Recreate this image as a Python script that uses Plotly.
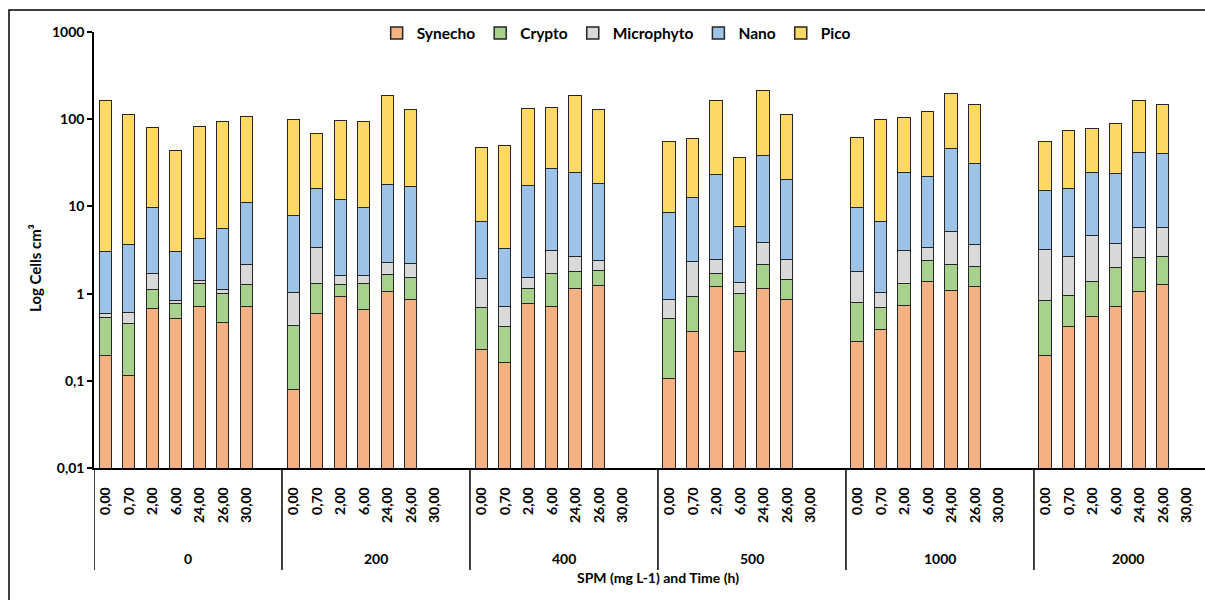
import plotly.graph_objects as go

# ---------------- data ----------------
spm_groups = ["0", "200", "400", "500", "1000", "2000"]
times = ["0,00", "0,70", "2,00", "6,00", "24,00", "26,00", "30,00"]

synecho = [0.19, 0.114, 0.66, 0.51, 0.70, 0.46, 0.70,
           0.078, 0.59, 0.91, 0.65, 1.04, 0.84, None,
           0.225, 0.161, 0.77, 0.71, 1.13, 1.21, None,
           0.104, 0.36, 1.18, 0.214, 1.13, 0.85, None,
           0.28, 0.385, 0.73, 1.35, 1.06, 1.18, None,
           0.19, 0.41, 0.535, 0.70, 1.03, 1.25, None]
crypto = [0.33, 0.34, 0.43, 0.25, 0.59, 0.52, 0.55,
          0.344, 0.69, 0.34, 0.64, 0.61, 0.66, None,
          0.45, 0.256, 0.36, 0.95, 0.64, 0.61, None,
          0.403, 0.55, 0.48, 0.77, 0.98, 0.60, None,
          0.51, 0.29, 0.57, 1.0, 1.05, 0.85, None,
          0.63, 0.53, 0.82, 1.28, 1.55, 1.40, None]
microphyto = [0.06, 0.14, 0.57, 0.06, 0.12, 0.13, 0.87,
              0.585, 2.02, 0.36, 0.29, 0.59, 0.70, None,
              0.79, 0.29, 0.39, 1.40, 0.88, 0.54, None,
              0.33, 1.39, 0.79, 0.33, 1.67, 0.97, None,
              0.99, 0.33, 1.80, 0.95, 2.97, 1.58, None,
              2.34, 1.69, 3.25, 1.69, 3.12, 2.96, None]
nano = [2.43, 3.05, 7.93, 2.18, 2.85, 4.35, 8.8,
        6.75, 12.5, 10.1, 8.08, 15.3, 14.4, None,
        5.1, 2.51, 15.8, 24.0, 21.4, 15.7, None,
        7.5, 10.1, 20.7, 4.5, 33.8, 17.7, None,
        7.8, 5.7, 21.2, 18.4, 40.1, 26.8, None,
        11.9, 13.2, 19.7, 19.6, 35.6, 34.0, None]
pico = [159, 108, 69.7, 39.9, 76.5, 88, 96,
        90, 51.8, 83.6, 83.8, 167, 112, None,
        40.2, 46.5, 114, 106, 160, 109, None,
        46.9, 46.4, 139, 30.4, 171, 91.6, None,
        51.2, 90.4, 78, 98, 149, 115, None,
        40.2, 57.4, 52.3, 64.2, 119, 104.7, None]

series_names = ["Synecho", "Crypto", "Microphyto", "Nano", "Pico"]
series_values = [synecho, crypto, microphyto, nano, pico]
series_colors = ["#F4B183", "#A9D18E", "#D9D9D9", "#9DC3E6", "#FFD966"]

# ---------------- layout helpers ----------------
SLOTS = 8  # 7 time categories + 1 blank slot per SPM group
xpos = [g * SLOTS + t for g in range(len(spm_groups)) for t in range(len(times))]
xlabels = [times[t] for g in range(len(spm_groups)) for t in range(len(times))]

FONT = "Lato"

fig = go.Figure()
for name, vals, col in zip(series_names, series_values, series_colors):
    fig.add_trace(go.Bar(
        x=xpos, y=vals, name=name, width=0.53,
        marker=dict(color=col, line=dict(color="#262626", width=1.5)),
    ))

shapes = []
# group separators below the axis
for g in range(len(spm_groups) + 1):
    shapes.append(dict(type="line", xref="x", yref="paper",
                       x0=g * SLOTS - 0.5, x1=g * SLOTS - 0.5, y0=0, y1=-0.234,
                       line=dict(color="black", width=1.5)))
# outer chart border
shapes.append(dict(type="rect", xref="paper", yref="paper",
                   x0=-0.0765, x1=1.2, y0=-0.5, y1=1.0505,
                   line=dict(color="black", width=1.5), fillcolor="rgba(0,0,0,0)"))

annotations = []
for g, lab in enumerate(spm_groups):
    annotations.append(dict(x=g * SLOTS + 3.5, y=-0.207, xref="x", yref="paper",
                            xanchor="center", yanchor="middle",
                            text=lab, showarrow=False,
                            font=dict(family=FONT, size=14, color="black", weight="bold")))
annotations.append(dict(x=23.5, y=-0.252, xref="x", yref="paper",
                        xanchor="center", yanchor="middle",
                        text="SPM (mg L-1) and Time (h)", showarrow=False,
                        font=dict(family=FONT, size=14, color="black", weight="bold")))
annotations.append(dict(x=-0.053, y=0.459, xref="paper", yref="paper",
                        xanchor="center", yanchor="middle",
                        text="Log Cells cm³", textangle=-90, showarrow=False,
                        font=dict(family=FONT, size=15, color="black", weight="bold")))

fig.update_layout(
    width=1205, height=600,
    margin=dict(l=94, r=0, t=32, b=132),
    barmode="stack",
    bargap=0,
    plot_bgcolor="white", paper_bgcolor="white",
    font=dict(family=FONT, size=14, color="black", weight="bold"),
    legend=dict(orientation="h", x=0.47, xanchor="center", y=0.997, yanchor="middle",
                traceorder="normal", font=dict(family=FONT, size=15.5, weight="bold"),
                bgcolor="rgba(0,0,0,0)"),
    shapes=shapes,
    annotations=annotations,
    xaxis=dict(range=[-0.5, 46.78], tickmode="array", tickvals=xpos, ticktext=xlabels,
               tickangle=-90, ticks="outside", ticklen=12, tickcolor="rgba(0,0,0,0)",
               showline=True, linecolor="black", linewidth=1.5, showgrid=False,
               zeroline=False, tickfont=dict(family=FONT, size=14, weight="bold")),
    yaxis=dict(type="log", range=[-2, 3], tickmode="array",
               tickvals=[0.01, 0.1, 1, 10, 100, 1000],
               ticktext=["0,01", "0,1", "1", "10", "100", "1000"],
               ticks="outside", ticklen=5, tickcolor="black", tickwidth=1.5,
               showline=True, linecolor="black", linewidth=1.5, showgrid=False,
               zeroline=False, tickfont=dict(family=FONT, size=14, weight="bold")),
)

fig.write_html("out.html",
               config={"displayModeBar": False},
               post_script="document.body.style.margin='0';document.body.style.overflow='hidden';")
